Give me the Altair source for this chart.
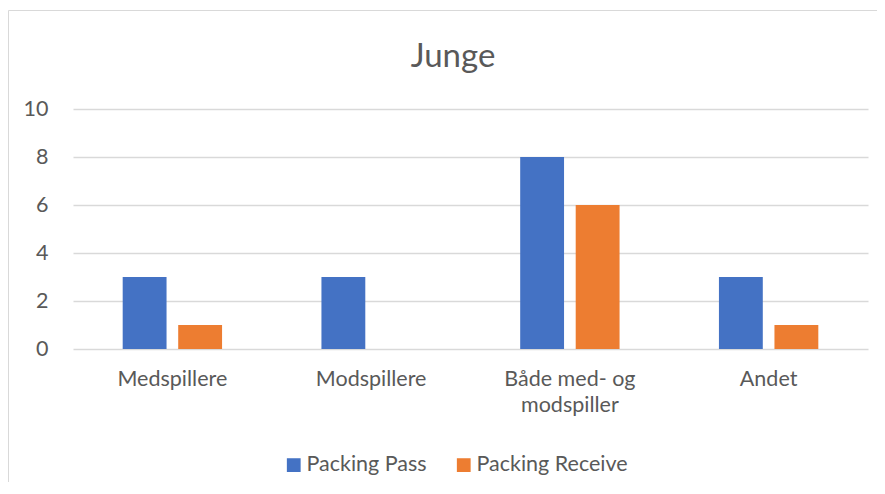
import altair as alt
import pandas as pd

categories = ["Medspillere", "Modspillere", "Både med- og modspiller", "Andet"]
series = ["Packing Pass", "Packing Receive"]
packing_pass = [3, 3, 8, 3]
packing_receive = [1, 0, 6, 1]
y_ticks = [0, 2, 4, 6, 8, 10]
colors = ["#4472C4", "#ED7D31"]
title_text = "Junge"

rows = []
for c, p, r in zip(categories, packing_pass, packing_receive):
    rows.append({"category": c, "series": series[0], "value": p})
    rows.append({"category": c, "series": series[1], "value": r})
df = pd.DataFrame(rows)

FONT = "Lato"
TXT = "#595959"
FS = 21.5

bars = alt.Chart(df).mark_bar().encode(
    x=alt.X(
        "category:N",
        sort=categories,
        title=None,
        scale=alt.Scale(paddingInner=0.5, paddingOuter=0.25),
        axis=alt.Axis(
            labelAngle=0,
            ticks=False,
            domain=False,
            labelPadding=19,
            labelFontSize=FS,
            labelColor=TXT,
            labelFont=FONT,
            labelLineHeight=26,
            labelExpr="datum.value == 'Både med- og modspiller' ? ['Både med- og', 'modspiller'] : datum.value",
        ),
    ),
    xOffset=alt.XOffset(
        "series:N", sort=series, scale=alt.Scale(paddingInner=0.21, paddingOuter=0)
    ),
    y=alt.Y(
        "value:Q",
        title=None,
        scale=alt.Scale(domain=[0, 10], nice=False),
        axis=alt.Axis(
            values=y_ticks,
            ticks=False,
            domain=False,
            labelPadding=25,
            labelFontSize=FS,
            labelColor=TXT,
            labelFont=FONT,
            gridColor="#D9D9D9",
            gridWidth=1.4,
        ),
    ),
    color=alt.Color(
        "series:N",
        sort=series,
        scale=alt.Scale(domain=series, range=colors),
        legend=alt.Legend(
            title=None,
            orient="none",
            direction="horizontal",
            legendX=210,
            legendY=345,
            symbolType="square",
            symbolSize=190,
            symbolStrokeWidth=0,
            symbolOpacity=1,
            labelFontSize=FS,
            labelColor=TXT,
            labelFont=FONT,
            columnPadding=26,
            labelOffset=2,
        ),
    ),
)

one = alt.Data(values=[{"t": title_text}])

title = alt.Chart(one).mark_text(
    font=FONT, fontSize=33, color=TXT, baseline="alphabetic", align="center"
).encode(x=alt.value(380), y=alt.value(-42), text="t:N")

border_left = alt.Chart(one).mark_rule(color="#D9D9D9", strokeWidth=1).encode(
    x=alt.value(-64.5), y=alt.value(-98.5), y2=alt.value(420)
)
border_top = alt.Chart(one).mark_rule(color="#D9D9D9", strokeWidth=1).encode(
    x=alt.value(-64.5), x2=alt.value(900), y=alt.value(-98.5)
)

chart = (
    alt.layer(border_left, border_top, bars, title)
    .properties(
        width=795,
        height=240,
        autosize=alt.AutoSizeParams(type="none"),
        padding={"left": 65, "top": 101, "right": 9, "bottom": 133},
        background="white",
    )
    .configure_view(stroke=None)
)

chart.save("out.html", embed_options={"renderer": "svg", "actions": False})
